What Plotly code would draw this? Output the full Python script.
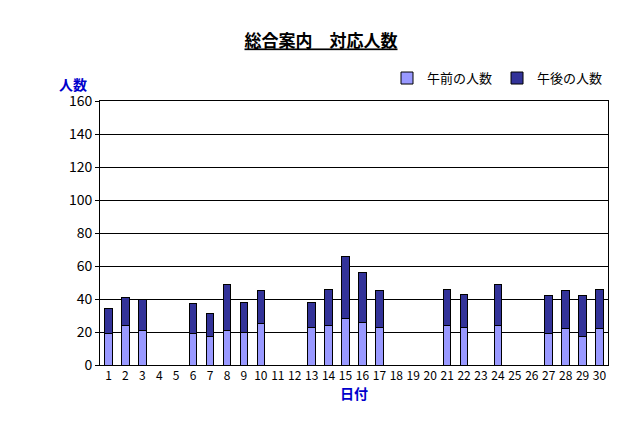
import plotly.graph_objects as go

days = [str(i) for i in range(1, 31)]
morning = [19,24,21,0,0,19,17,21,20,25,0,0,23,24,28,26,23,0,0,0,24,23,0,24,0,0,19,22,17,22]
total = [34,41,40,0,0,37,31,49,38,45,0,0,38,46,66,56,45,0,0,0,46,43,0,49,0,0,42,45,42,46]
afternoon = [t - m for t, m in zip(total, morning)]
yticks = [0,20,40,60,80,100,120,140,160]

font = "Noto Sans CJK JP"
fig = go.Figure()
fig.add_bar(x=days, y=morning, name="午前の人数", marker=dict(color="#9999FF", line=dict(color="black", width=1)))
fig.add_bar(x=days, y=afternoon, name="午後の人数", marker=dict(color="#333399", line=dict(color="black", width=1)))
fig.update_layout(
    barmode="stack", bargap=0.55, width=626, height=424,
    paper_bgcolor="white", plot_bgcolor="white",
    margin=dict(l=92, r=26, t=93, b=67, autoexpand=False),
    font=dict(family=font, size=13, color="black"),
    title=dict(text="<b><u>総合案内　対応人数</u></b>", x=0.5, xanchor="center", y=0.935, font=dict(size=17)),
    legend=dict(orientation="h", x=1, xanchor="right", y=1.03, yanchor="bottom", font=dict(size=13), traceorder="normal"),
    showlegend=True,
)
fig.update_xaxes(automargin=False, showline=True, linecolor="black", mirror=True, ticks="", tickfont=dict(size=12, family=font),
                 title=dict(text="<b>日付</b>", font=dict(color="#0000CC", size=14), standoff=6))
fig.update_yaxes(automargin=False, range=[0,160], tickvals=yticks, showgrid=True, gridcolor="black", showline=True, linecolor="black",
                 mirror=True, ticks="outside", ticklen=4, tickcolor="black", tickfont=dict(size=14))
fig.add_annotation(text="<b>人数</b>", xref="paper", yref="paper", x=-0.085, y=1.11, showarrow=False,
                   font=dict(color="#0000CC", size=14))
fig.write_html("out.html")
